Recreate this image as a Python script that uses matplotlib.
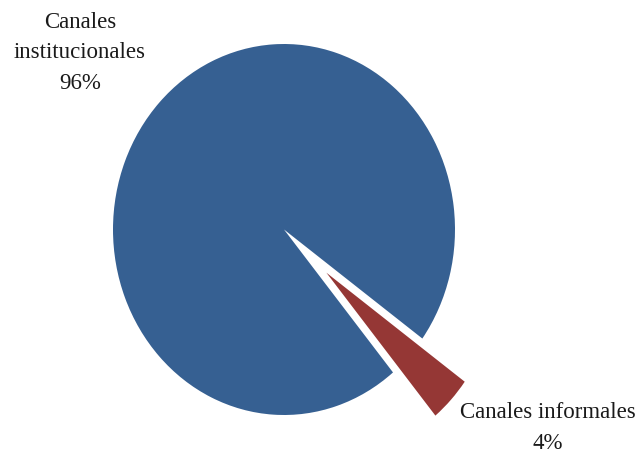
import matplotlib.pyplot as plt
import numpy as np

categorias = ["Canales\ninstitucionales", "Canales informales"]
porcentajes = [96, 4]
colores = ["#366092", "#953735"]
separacion = [0, 0.34]

plt.rcParams['font.family'] = ['Liberation Serif', 'DejaVu Serif']

fig = plt.figure(figsize=(6.42, 4.54), dpi=100)
ax = fig.add_axes([0, 0, 1, 1])

ax.pie(porcentajes, colors=colores, explode=separacion, startangle=-36,
       counterclock=True, radius=1, wedgeprops=dict(linewidth=0))

# the original pie is a bit stretched vertically
ax.set_aspect('auto')
ax.set_xlim(-284 / 171, (642 - 284) / 171)
ax.set_ylim(-(454 - 229.5) / 185.5, 229.5 / 185.5)
ax.axis('off')

# labels
pos = [(80 / 642, 1 - 53 / 454), (548 / 642, 1 - 428 / 454)]
for cat, val, (x, y) in zip(categorias, porcentajes, pos):
    ax.text(x, y, "{}\n{}%".format(cat, val), transform=ax.transAxes,
            ha='center', va='center', fontsize=16.5, linespacing=1.6,
            color='#1a1a1a')

fig.savefig("out.png", dpi=100)
